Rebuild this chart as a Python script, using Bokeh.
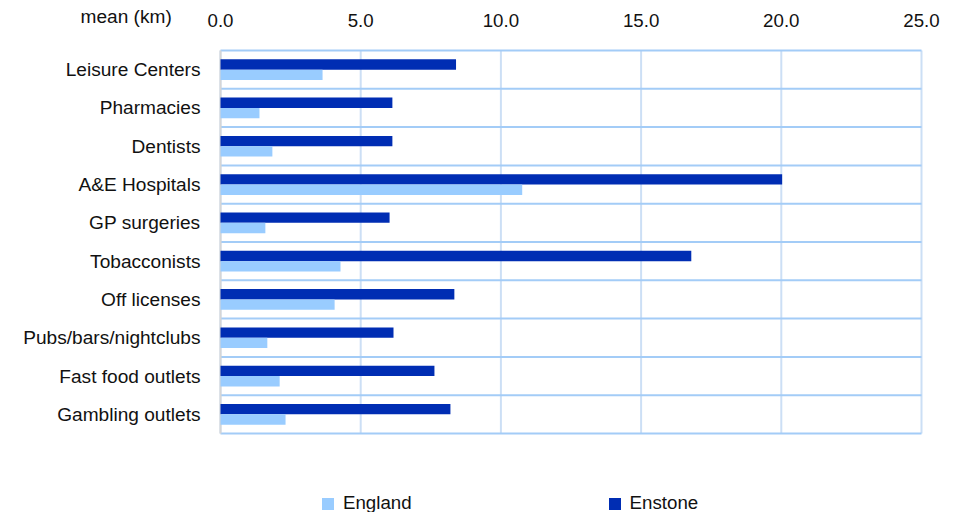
from bokeh.plotting import figure
from bokeh.models import Range1d, Legend, LegendItem, ColumnDataSource
from bokeh.core.properties import value
from bokeh.transform import dodge
from bokeh.embed import file_html
from bokeh.resources import INLINE

categories = ["Leisure Centers", "Pharmacies", "Dentists", "A&E Hospitals", "GP surgeries",
              "Tobacconists", "Off licenses", "Pubs/bars/nightclubs", "Fast food outlets",
              "Gambling outlets"]
england = [3.64, 1.39, 1.85, 10.76, 1.60, 4.28, 4.07, 1.67, 2.11, 2.32]
enstone = [8.40, 6.13, 6.13, 20.03, 6.03, 16.79, 8.34, 6.17, 7.63, 8.20]
x_ticks = [0, 5, 10, 15, 20, 25]
x_tick_labels = ["0.0", "5.0", "10.0", "15.0", "20.0", "25.0"]
unit_label = "mean (km)"
series_names = ["England", "Enstone"]

FONT = "Liberation Sans"
FS = "18.7px"
FS_CAT = "19.1px"
TXT = "#111111"
LIGHT = "#99CCFF"
DARK = "#002DB3"
HLINE = "#A3CCF7"
VLINE = "#CCDFF5"
AXIS = "#D6D6D6"

W, H = 960, 512
n = len(categories)
x_max = x_ticks[-1]
# plot area in pixels: left 220, right 921, top 50, bottom 433
px_per_x = (921 - 220) / x_max
px_per_row = (433 - 50) / n

# row index (top category first)
rows = [n - i - 0.5 for i in range(n)]
src = ColumnDataSource(dict(cat=categories, row=rows, england=england, enstone=enstone))

p = figure(width=W, height=H, output_backend="svg", toolbar_location=None,
           x_range=Range1d(-220 / px_per_x, x_max + (W - 921) / px_per_x),
           y_range=Range1d(-(H - 433) / px_per_row, n + 50 / px_per_row),
           x_axis_type=None, y_axis_type=None, min_border=0)
p.outline_line_color = None
p.grid.visible = False

# grid lines
p.segment(x0=x_ticks, x1=x_ticks, y0=0, y1=n, line_color=VLINE, line_width=2)
p.segment(x0=0, x1=x_max, y0=list(range(n + 1)), y1=list(range(n + 1)),
          line_color=HLINE, line_width=2)
p.segment(x0=[0], x1=[0], y0=0, y1=n, line_color=AXIS, line_width=2)

# bars
r_es = p.hbar(y=dodge("row", 0.135), right="enstone", left=0, height=0.27,
              source=src, fill_color=DARK, line_color=None)
r_en = p.hbar(y=dodge("row", -0.135), right="england", left=0, height=0.27,
              source=src, fill_color=LIGHT, line_color=None)

# category labels
p.text(x=0, y="row", text="cat", source=src, x_offset=-20, text_align="right",
       text_baseline="middle", text_font=value(FONT), text_font_size=FS_CAT, text_color=TXT)

# tick labels (top)
p.text(x=x_ticks, y=n, text=x_tick_labels, y_offset=-30, text_align="center",
       text_baseline="middle", text_font=value(FONT), text_font_size=FS, text_color=TXT)

# unit label
p.text(x=[0], y=[n], text=[unit_label], x_offset=-140, y_offset=-34, text_align="left",
       text_baseline="middle", text_font=value(FONT), text_font_size=FS_CAT, text_color=TXT)

legend = Legend(items=[LegendItem(label=series_names[0], renderers=[r_en]),
                       LegendItem(label=series_names[1], renderers=[r_es])],
                orientation="horizontal", location=(320, -2),
                glyph_width=15, glyph_height=15, label_standoff=8, spacing=195,
                label_height=22, padding=0, margin=0, border_line_color=None,
                background_fill_alpha=0,
                label_text_font=FONT, label_text_font_size=FS, label_text_color=TXT)
p.add_layout(legend, "center")

open("out.html", "w").write(file_html(p, INLINE))
